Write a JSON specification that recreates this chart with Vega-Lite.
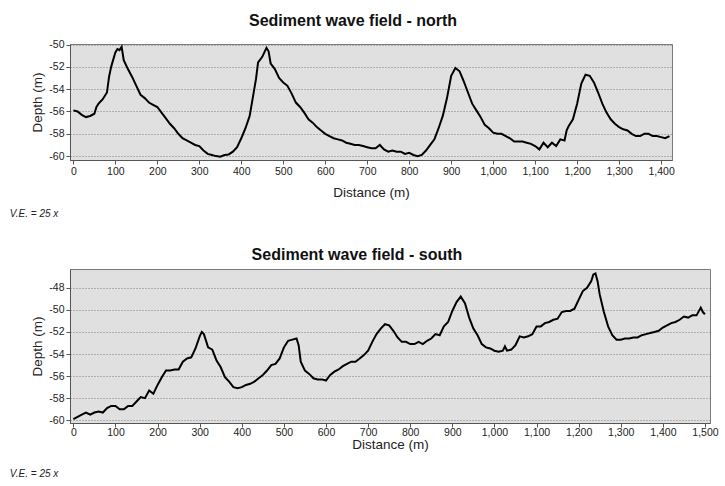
{
 "$schema": "https://vega.github.io/schema/vega-lite/v6.json",
 "background": "white",
 "padding": {"left": 9, "top": 13, "right": 5, "bottom": 5},
 "spacing": 26,
 "config": {
  "font": "Liberation Sans",
  "view": {"fill": "#e0e0e0", "stroke": "#7a7a7a", "strokeWidth": 1},
  "axis": {"labelFont": "Liberation Sans", "labelFontSize": 10.5, "labelColor": "#222", "titleFont": "Liberation Sans", "titleFontSize": 13.5, "titleFontWeight": "normal", "titleColor": "#222", "domainColor": "#555", "tickColor": "#555", "tickSize": 4},
  "title": {"font": "Liberation Sans", "fontSize": 16, "fontWeight": "bold", "color": "#111", "anchor": "middle"}
 },
 "datasets": {
  "north": [
   {"distance":0,"depth":-55.9},{"distance":10,"depth":-56.0},{"distance":20,"depth":-56.3},{"distance":30,"depth":-56.5},{"distance":40,"depth":-56.4},{"distance":50,"depth":-56.2},{"distance":55,"depth":-55.6},{"distance":60,"depth":-55.3},{"distance":70,"depth":-54.9},{"distance":80,"depth":-54.3},{"distance":85,"depth":-52.9},{"distance":90,"depth":-52.0},{"distance":100,"depth":-50.7},{"distance":105,"depth":-50.4},{"distance":110,"depth":-50.5},{"distance":115,"depth":-50.2},{"distance":120,"depth":-51.4},{"distance":130,"depth":-52.2},{"distance":140,"depth":-52.9},{"distance":150,"depth":-53.7},{"distance":160,"depth":-54.5},{"distance":170,"depth":-54.8},{"distance":180,"depth":-55.2},{"distance":190,"depth":-55.4},{"distance":200,"depth":-55.6},{"distance":210,"depth":-56.1},{"distance":220,"depth":-56.6},{"distance":230,"depth":-57.1},{"distance":240,"depth":-57.5},{"distance":250,"depth":-58.0},{"distance":260,"depth":-58.4},{"distance":270,"depth":-58.6},{"distance":280,"depth":-58.8},{"distance":290,"depth":-59.0},{"distance":300,"depth":-59.1},{"distance":310,"depth":-59.5},{"distance":320,"depth":-59.8},{"distance":330,"depth":-59.9},{"distance":340,"depth":-60.0},{"distance":350,"depth":-60.05},{"distance":360,"depth":-59.9},{"distance":370,"depth":-59.85},{"distance":380,"depth":-59.6},{"distance":390,"depth":-59.2},{"distance":400,"depth":-58.4},{"distance":410,"depth":-57.5},{"distance":420,"depth":-56.4},{"distance":430,"depth":-54.2},{"distance":435,"depth":-53.1},{"distance":440,"depth":-51.6},{"distance":450,"depth":-51.1},{"distance":460,"depth":-50.3},{"distance":465,"depth":-50.6},{"distance":470,"depth":-51.7},{"distance":480,"depth":-52.2},{"distance":490,"depth":-53.0},{"distance":500,"depth":-53.4},{"distance":510,"depth":-53.7},{"distance":520,"depth":-54.4},{"distance":530,"depth":-55.2},{"distance":540,"depth":-55.6},{"distance":550,"depth":-56.1},{"distance":560,"depth":-56.7},{"distance":570,"depth":-57.0},{"distance":580,"depth":-57.4},{"distance":590,"depth":-57.7},{"distance":600,"depth":-58.0},{"distance":610,"depth":-58.2},{"distance":620,"depth":-58.4},{"distance":630,"depth":-58.5},{"distance":640,"depth":-58.6},{"distance":650,"depth":-58.8},{"distance":660,"depth":-58.9},{"distance":670,"depth":-59.0},{"distance":680,"depth":-59.0},{"distance":690,"depth":-59.1},{"distance":700,"depth":-59.2},{"distance":710,"depth":-59.3},{"distance":720,"depth":-59.3},{"distance":730,"depth":-59.0},{"distance":740,"depth":-59.4},{"distance":750,"depth":-59.6},{"distance":760,"depth":-59.5},{"distance":770,"depth":-59.6},{"distance":780,"depth":-59.6},{"distance":790,"depth":-59.8},{"distance":800,"depth":-59.7},{"distance":810,"depth":-59.9},{"distance":820,"depth":-60.0},{"distance":830,"depth":-59.9},{"distance":840,"depth":-59.5},{"distance":850,"depth":-59.0},{"distance":860,"depth":-58.5},{"distance":870,"depth":-57.5},{"distance":880,"depth":-56.4},{"distance":890,"depth":-54.8},{"distance":900,"depth":-52.8},{"distance":910,"depth":-52.1},{"distance":920,"depth":-52.4},{"distance":930,"depth":-53.3},{"distance":940,"depth":-54.3},{"distance":950,"depth":-55.3},{"distance":960,"depth":-55.9},{"distance":970,"depth":-56.5},{"distance":980,"depth":-57.2},{"distance":990,"depth":-57.5},{"distance":1000,"depth":-57.9},{"distance":1010,"depth":-58.0},{"distance":1020,"depth":-58.0},{"distance":1030,"depth":-58.2},{"distance":1040,"depth":-58.4},{"distance":1050,"depth":-58.7},{"distance":1060,"depth":-58.7},{"distance":1070,"depth":-58.7},{"distance":1080,"depth":-58.8},{"distance":1090,"depth":-58.9},{"distance":1100,"depth":-59.1},{"distance":1110,"depth":-59.4},{"distance":1120,"depth":-58.8},{"distance":1130,"depth":-59.2},{"distance":1140,"depth":-58.8},{"distance":1150,"depth":-59.1},{"distance":1160,"depth":-58.5},{"distance":1170,"depth":-58.6},{"distance":1175,"depth":-57.7},{"distance":1180,"depth":-57.3},{"distance":1190,"depth":-56.7},{"distance":1200,"depth":-55.3},{"distance":1210,"depth":-53.5},{"distance":1220,"depth":-52.7},{"distance":1230,"depth":-52.8},{"distance":1240,"depth":-53.4},{"distance":1250,"depth":-54.3},{"distance":1260,"depth":-55.3},{"distance":1270,"depth":-56.1},{"distance":1280,"depth":-56.7},{"distance":1290,"depth":-57.1},{"distance":1300,"depth":-57.4},{"distance":1310,"depth":-57.6},{"distance":1320,"depth":-57.7},{"distance":1330,"depth":-58.0},{"distance":1340,"depth":-58.2},{"distance":1350,"depth":-58.2},{"distance":1360,"depth":-58.0},{"distance":1370,"depth":-58.0},{"distance":1380,"depth":-58.2},{"distance":1390,"depth":-58.2},{"distance":1400,"depth":-58.3},{"distance":1410,"depth":-58.4},{"distance":1420,"depth":-58.2}
  ],
  "south": [
   {"distance":0,"depth":-59.9},{"distance":10,"depth":-59.7},{"distance":20,"depth":-59.5},{"distance":30,"depth":-59.3},{"distance":40,"depth":-59.5},{"distance":50,"depth":-59.3},{"distance":60,"depth":-59.2},{"distance":70,"depth":-59.3},{"distance":80,"depth":-58.9},{"distance":90,"depth":-58.7},{"distance":100,"depth":-58.7},{"distance":110,"depth":-59.0},{"distance":120,"depth":-59.0},{"distance":130,"depth":-58.7},{"distance":140,"depth":-58.7},{"distance":150,"depth":-58.3},{"distance":160,"depth":-57.9},{"distance":170,"depth":-58.0},{"distance":180,"depth":-57.3},{"distance":190,"depth":-57.6},{"distance":200,"depth":-56.8},{"distance":210,"depth":-56.1},{"distance":220,"depth":-55.5},{"distance":230,"depth":-55.5},{"distance":240,"depth":-55.4},{"distance":250,"depth":-55.4},{"distance":260,"depth":-54.7},{"distance":270,"depth":-54.4},{"distance":280,"depth":-54.3},{"distance":290,"depth":-53.5},{"distance":300,"depth":-52.4},{"distance":305,"depth":-52.0},{"distance":310,"depth":-52.2},{"distance":320,"depth":-53.4},{"distance":330,"depth":-53.6},{"distance":340,"depth":-54.6},{"distance":350,"depth":-55.2},{"distance":360,"depth":-56.1},{"distance":370,"depth":-56.5},{"distance":380,"depth":-57.0},{"distance":390,"depth":-57.1},{"distance":400,"depth":-57.0},{"distance":410,"depth":-56.8},{"distance":420,"depth":-56.7},{"distance":430,"depth":-56.5},{"distance":440,"depth":-56.2},{"distance":450,"depth":-55.9},{"distance":460,"depth":-55.5},{"distance":470,"depth":-55.0},{"distance":480,"depth":-54.9},{"distance":490,"depth":-54.4},{"distance":500,"depth":-53.4},{"distance":510,"depth":-52.8},{"distance":520,"depth":-52.7},{"distance":530,"depth":-52.6},{"distance":535,"depth":-53.2},{"distance":540,"depth":-54.7},{"distance":550,"depth":-55.5},{"distance":560,"depth":-55.8},{"distance":570,"depth":-56.2},{"distance":580,"depth":-56.3},{"distance":590,"depth":-56.3},{"distance":600,"depth":-56.4},{"distance":610,"depth":-55.9},{"distance":620,"depth":-55.6},{"distance":630,"depth":-55.4},{"distance":640,"depth":-55.1},{"distance":650,"depth":-54.9},{"distance":660,"depth":-54.7},{"distance":670,"depth":-54.7},{"distance":680,"depth":-54.4},{"distance":690,"depth":-54.1},{"distance":700,"depth":-53.7},{"distance":710,"depth":-52.9},{"distance":720,"depth":-52.2},{"distance":730,"depth":-51.7},{"distance":740,"depth":-51.3},{"distance":750,"depth":-51.4},{"distance":760,"depth":-51.9},{"distance":770,"depth":-52.5},{"distance":780,"depth":-52.9},{"distance":790,"depth":-52.9},{"distance":800,"depth":-53.1},{"distance":810,"depth":-53.1},{"distance":820,"depth":-52.9},{"distance":830,"depth":-53.1},{"distance":840,"depth":-52.8},{"distance":850,"depth":-52.6},{"distance":860,"depth":-52.2},{"distance":870,"depth":-52.3},{"distance":880,"depth":-51.5},{"distance":890,"depth":-51.1},{"distance":900,"depth":-50.1},{"distance":910,"depth":-49.3},{"distance":920,"depth":-48.8},{"distance":930,"depth":-49.4},{"distance":940,"depth":-50.7},{"distance":950,"depth":-51.7},{"distance":960,"depth":-52.3},{"distance":970,"depth":-53.1},{"distance":980,"depth":-53.4},{"distance":990,"depth":-53.5},{"distance":1000,"depth":-53.7},{"distance":1010,"depth":-53.8},{"distance":1020,"depth":-53.7},{"distance":1025,"depth":-53.3},{"distance":1030,"depth":-53.7},{"distance":1040,"depth":-53.6},{"distance":1050,"depth":-53.2},{"distance":1060,"depth":-52.4},{"distance":1070,"depth":-52.5},{"distance":1080,"depth":-52.4},{"distance":1090,"depth":-52.2},{"distance":1100,"depth":-51.5},{"distance":1110,"depth":-51.5},{"distance":1120,"depth":-51.2},{"distance":1130,"depth":-51.1},{"distance":1140,"depth":-50.9},{"distance":1150,"depth":-50.8},{"distance":1160,"depth":-50.2},{"distance":1170,"depth":-50.1},{"distance":1180,"depth":-50.1},{"distance":1190,"depth":-49.9},{"distance":1200,"depth":-49.1},{"distance":1210,"depth":-48.3},{"distance":1220,"depth":-48.0},{"distance":1230,"depth":-47.4},{"distance":1235,"depth":-46.8},{"distance":1240,"depth":-46.7},{"distance":1245,"depth":-47.4},{"distance":1250,"depth":-48.6},{"distance":1260,"depth":-50.2},{"distance":1270,"depth":-51.5},{"distance":1280,"depth":-52.3},{"distance":1290,"depth":-52.7},{"distance":1300,"depth":-52.7},{"distance":1310,"depth":-52.6},{"distance":1320,"depth":-52.6},{"distance":1330,"depth":-52.5},{"distance":1340,"depth":-52.5},{"distance":1350,"depth":-52.3},{"distance":1360,"depth":-52.2},{"distance":1370,"depth":-52.1},{"distance":1380,"depth":-52.0},{"distance":1390,"depth":-51.9},{"distance":1400,"depth":-51.6},{"distance":1410,"depth":-51.4},{"distance":1420,"depth":-51.2},{"distance":1430,"depth":-51.1},{"distance":1440,"depth":-50.9},{"distance":1450,"depth":-50.6},{"distance":1460,"depth":-50.7},{"distance":1470,"depth":-50.5},{"distance":1480,"depth":-50.5},{"distance":1490,"depth":-49.8},{"distance":1495,"depth":-50.2},{"distance":1500,"depth":-50.4}
  ]
 },
 "vconcat": [
  {
   "title": {"text": "Sediment wave field - north", "offset": 10, "anchor": "middle", "frame": "bounds", "dx": 11},
   "vconcat": [
    {
     "title": {"text": "V.E. = 25 x", "orient": "bottom", "anchor": "start", "fontSize": 10, "fontStyle": "italic", "fontWeight": "normal", "color": "#222", "offset": 10, "dx": -21},
     "width": 602,
     "height": 116,
     "data": {"name": "north"},
     "mark": {"type": "line", "color": "black", "strokeWidth": 2},
     "encoding": {
      "x": {"field": "distance", "type": "quantitative", "scale": {"domain": [-8, 1426], "nice": false, "zero": false}, "axis": {"values": [0,100,200,300,400,500,600,700,800,900,1000,1100,1200,1300,1400], "format": ",d", "title": "Distance (m)", "titlePadding": 9, "grid": false, "labelFlush": false}},
      "y": {"field": "depth", "type": "quantitative", "scale": {"domain": [-60.35, -49.95], "nice": false, "zero": false}, "axis": {"values": [-60,-58,-56,-54,-52,-50], "labelExpr": "'-' + abs(datum.value)", "title": "Depth (m)", "grid": true, "gridDash": [1,2], "gridColor": "#666", "gridOpacity": 0.8}}
     }
    }
   ]
  },
  {
   "title": {"text": "Sediment wave field - south", "offset": 6, "anchor": "middle", "frame": "bounds", "dx": -7},
   "vconcat": [
    {
     "title": {"text": "V.E. = 25 x", "orient": "bottom", "anchor": "start", "fontSize": 10, "fontStyle": "italic", "fontWeight": "normal", "color": "#222", "offset": 18, "dx": -21},
     "width": 640,
     "height": 154,
     "data": {"name": "south"},
     "mark": {"type": "line", "color": "black", "strokeWidth": 2},
     "encoding": {
      "x": {"field": "distance", "type": "quantitative", "scale": {"domain": [-8, 1512], "nice": false, "zero": false}, "axis": {"values": [0,100,200,300,400,500,600,700,800,900,1000,1100,1200,1300,1400,1500], "format": ",d", "title": "Distance (m)", "titlePadding": 0, "labelPadding": 0, "grid": false, "labelFlush": false}},
      "y": {"field": "depth", "type": "quantitative", "scale": {"domain": [-60.25, -46.3], "nice": false, "zero": false}, "axis": {"values": [-60,-58,-56,-54,-52,-50,-48], "labelExpr": "'-' + abs(datum.value)", "title": "Depth (m)", "grid": true, "gridDash": [1,2], "gridColor": "#666", "gridOpacity": 0.8}}
     }
    }
   ]
  }
 ]
}
